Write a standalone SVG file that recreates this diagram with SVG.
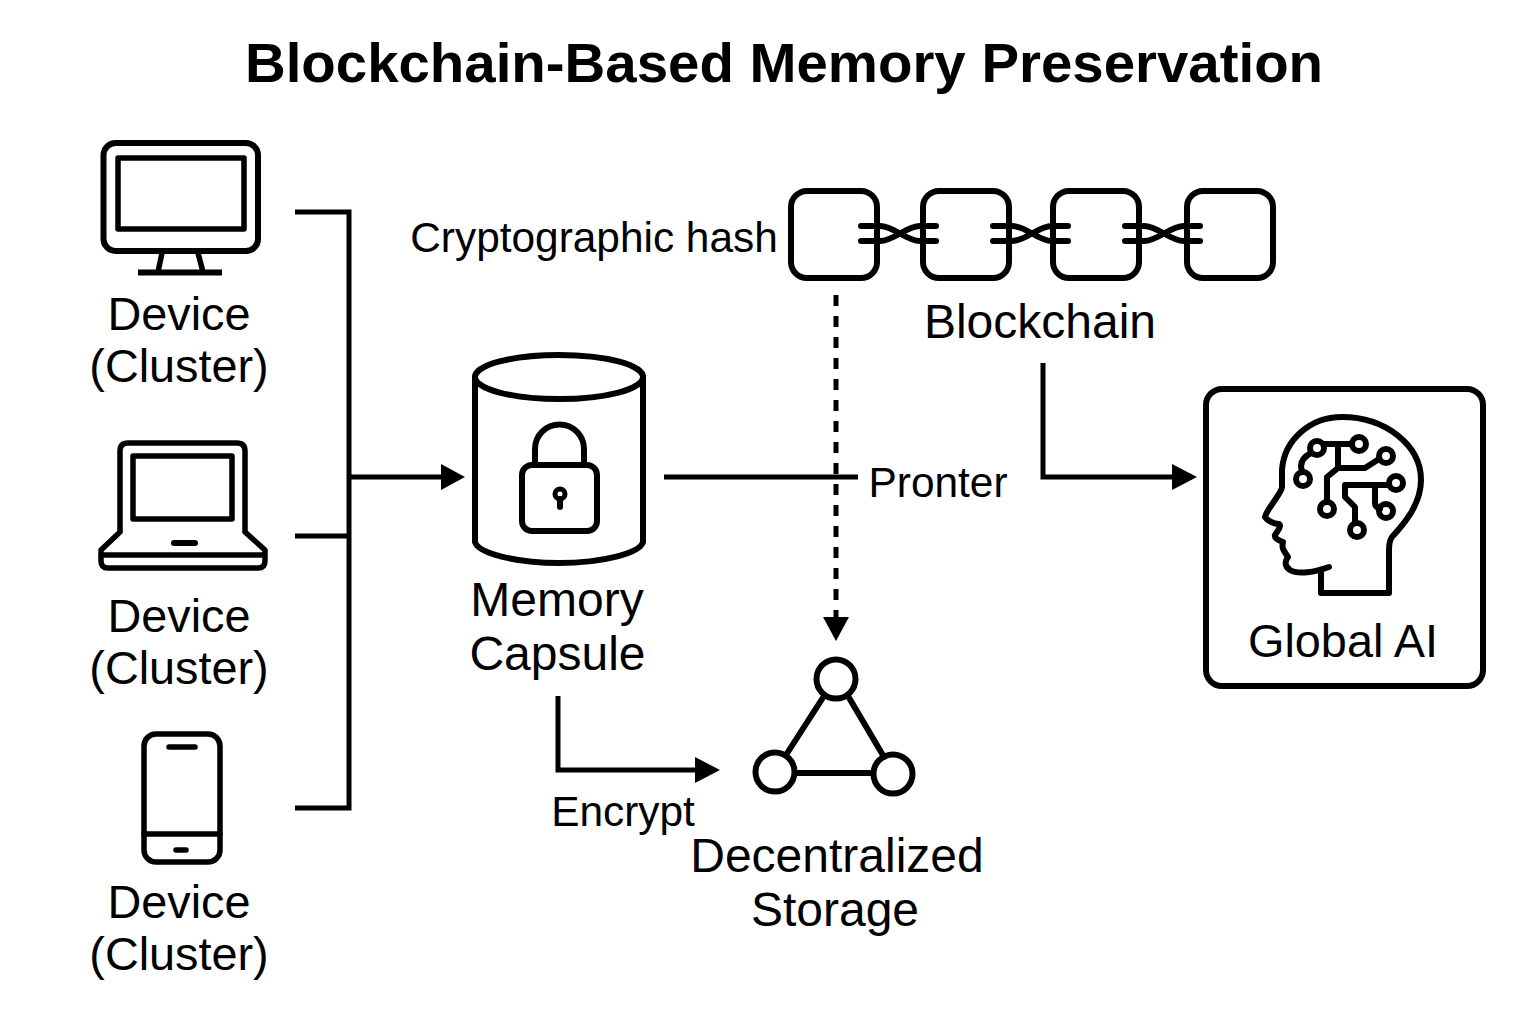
<svg xmlns="http://www.w3.org/2000/svg" width="1536" height="1024" viewBox="0 0 1536 1024">
<style>
text{font-family:"Liberation Sans",Arial,sans-serif;fill:#000;text-anchor:middle}
.t{font-size:56.400px;font-weight:700}
.l{font-size:46.800px}
.m{font-size:48px}
.s{font-size:42.400px}
.i{fill:none;stroke:#000;stroke-width:6;stroke-linecap:round;stroke-linejoin:round}
.n{fill:none;stroke:#000;stroke-width:5.500;stroke-linecap:round;stroke-linejoin:round}
.b{fill:none;stroke:#000;stroke-width:6;stroke-linecap:round;stroke-linejoin:round}
.c{fill:none;stroke:#000;stroke-width:5}
.k{fill:none;stroke:#000;stroke-width:5}
</style>
<defs>
<g id="link"><path class="i" d="M861 226H880C894 226 906 241 920 241H936M861 241H880C894 241 906 226 920 226H936"/></g>
</defs>
<rect width="1536" height="1024" fill="#fff"/>
<text class="t" x="784" y="82">Blockchain-Based Memory Preservation</text>
<g id="connectors">
<path class="k" d="M295 212H349V808H295M295 536H349M349 477H445"/>
<path d="M465 477L441 464V490Z"/>
<path class="k" d="M664 477H858"/>
<path class="k" d="M836 295V620" stroke-dasharray="11 10"/>
<path d="M836 641L823 617H849Z"/>
<path class="k" d="M1043 363V477H1175"/>
<path d="M1197 477L1172 464V490Z"/>
<path class="k" d="M558 696V770H698"/>
<path d="M720 770L695 757V783Z"/>
</g>
<g id="device-desktop">
<rect class="i" x="103.500" y="143" width="154.500" height="108" rx="12"/>
<rect class="n" x="118" y="158" width="126" height="71"/>
<path class="n" d="M162 253L158 272M198 253L203 272"/>
<path class="i" style="stroke-linecap:butt" d="M138 272.500H222"/>
<text class="l" x="179" y="330">Device</text>
<text class="l" x="179" y="382">(Cluster)</text>
</g>
<g id="device-laptop">
<path class="n" d="M120 530V451Q120 443 128 443H237Q245 443 245 451V530"/>
<rect class="n" x="133" y="456" width="99" height="63"/>
<path class="n" d="M120 532L101 550V561Q101 568 108 568H258Q265 568 265 561V550L245 532M101 555H265"/>
<path class="i" d="M174 543H195"/>
<text class="l" x="179" y="632">Device</text>
<text class="l" x="179" y="684">(Cluster)</text>
</g>
<g id="device-phone">
<rect class="n" x="144" y="734" width="76" height="128" rx="12"/>
<path class="n" d="M169 747H195M144 834H220M176 850H186"/>
<text class="l" x="179" y="918">Device</text>
<text class="l" x="179" y="970">(Cluster)</text>
</g>
<g id="memory-capsule">
<ellipse class="i" cx="559" cy="377" rx="84" ry="22"/>
<path class="i" d="M475 377V542C478 553 515 563 559 563C603 563 640 553 643 542V377"/>
<rect class="i" x="522" y="465" width="75" height="66" rx="10"/>
<path class="i" d="M535 462V449A24.500 24.500 0 0 1 584 449V462"/>
<circle class="c" cx="560" cy="494" r="5"/>
<path class="i" d="M560 499V507"/>
<text class="m" x="557" y="616">Memory</text>
<text class="m" x="557.500" y="670">Capsule</text>
</g>
<g id="blockchain">
<rect class="i" x="791" y="191" width="86" height="87" rx="16"/>
<rect class="i" x="923" y="191" width="86" height="87" rx="16"/>
<rect class="i" x="1053" y="191" width="86" height="87" rx="16"/>
<rect class="i" x="1187" y="191" width="86" height="87" rx="16"/>
<use href="#link"/>
<use href="#link" x="132"/>
<use href="#link" x="264"/>
<text class="s" x="594" y="252">Cryptographic hash</text>
<text class="m" x="1040" y="338">Blockchain</text>
</g>
<g id="label-pronter"><text class="s" x="938" y="497">Pronter</text></g>
<g id="label-encrypt"><text class="s" x="623" y="826">Encrypt</text></g>
<g id="decentralized-storage">
<path class="i" d="M824 696L786 755M848 696L884 757M795 773H873"/>
<circle class="i" cx="836" cy="679" r="19.500"/>
<circle class="i" cx="775" cy="772" r="19.500"/>
<circle class="i" cx="893" cy="774" r="19.500"/>
<text class="m" x="837" y="872">Decentralized</text>
<text class="m" x="835" y="926">Storage</text>
</g>
<g id="global-ai">
<rect class="i" x="1206" y="389" width="277" height="297" rx="16"/>
<path class="i" d="M1329 567C1315 572 1298 575 1290 570C1284 566 1285 561 1288 557C1285 552 1281 549 1283 542C1278 540 1274 538 1275 535C1280 528 1281 525 1279 524C1273 524 1267 520 1265 517C1266 510 1282 493 1282 487V470C1284 440 1310 417 1342 417C1385 417 1421 445 1421 480C1421 505 1403 525 1392 537C1389 541 1389 545 1389 550V593H1321V570"/>
<circle class="b" cx="1317" cy="448" r="7"/>
<circle class="b" cx="1359" cy="444" r="7"/>
<circle class="b" cx="1386" cy="456" r="7"/>
<circle class="b" cx="1303" cy="479" r="7"/>
<circle class="b" cx="1396" cy="483" r="7"/>
<circle class="b" cx="1327" cy="509" r="7"/>
<circle class="b" cx="1386" cy="511" r="7"/>
<circle class="b" cx="1357" cy="530" r="7"/>
<path class="b" d="M1325 444H1351M1338 444V468M1327 501V477L1338 468H1365L1379 459M1311 453Q1298 460 1302 471M1388 485H1345V497L1355 507V522M1375 485V503Q1375 507 1380 509"/>
<text class="l" x="1343" y="657">Global AI</text>
</g>
</svg>
